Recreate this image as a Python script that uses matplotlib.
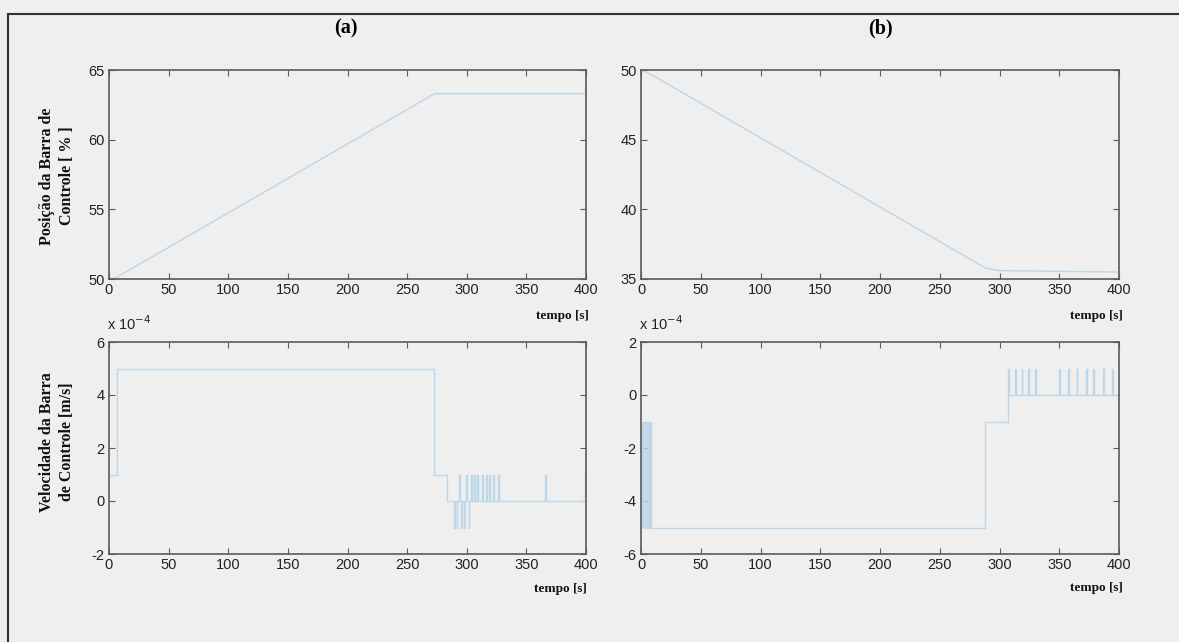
import matplotlib
matplotlib.use("Agg")
import matplotlib.pyplot as plt
from matplotlib.lines import Line2D
from matplotlib.ticker import FixedLocator, FuncFormatter

# ---- data -------------------------------------------------------------
time_ticks = [0, 50, 100, 150, 200, 250, 300, 350, 400]

# rod position [%] (breakpoints of a piecewise-linear trace)
pos_a_t = [0, 6, 273, 400]
pos_a_v = [50.0, 50.1, 63.3, 63.3]
pos_b_t = [0, 8, 288, 300, 400]
pos_b_v = [50.0, 49.7, 35.8, 35.6, 35.5]

# rod speed [m/s] (step levels, held until the next instant)
vel_a_t = [0, 6.5, 272.5, 283.5]
vel_a_v = [1e-4, 5e-4, 1e-4, 0.0]
vel_a_pulse_dn = [289.5, 291.5, 295.5, 297.5, 301.5]
vel_a_pulse_up = [293.5, 299.5, 303.5, 306, 309, 313, 316, 319, 322, 326, 366, 399.3]

vel_b_t = [0, 8.5, 288, 307]
vel_b_v = [-1e-4, -5e-4, -1e-4, 0.0]
vel_b_pulse_dn = [1.0, 3.0, 5.0, 7.0]
vel_b_pulse_up = [307.5, 313, 318.5, 324, 329.5, 350, 357.5, 364.5, 372.5, 378.5, 387, 394]

PULSE_W = 0.7
T_END = 400


def step_trace(t_levels, v_levels, pulses):
    """Merge a step profile with narrow pulses; returns step-post arrays."""
    events = []
    for i, (t0, v) in enumerate(zip(t_levels, v_levels)):
        t1 = t_levels[i + 1] if i + 1 < len(t_levels) else T_END
        events.append((t0, t1, v))
    ts, vs = [], []
    for t0, t1, v in events:
        inside = sorted((p, pv) for p, pv in pulses if t0 <= p < t1)
        cur = t0
        for p, pv in inside:
            ts += [cur, p]
            vs += [v, pv]
            cur = min(p + PULSE_W, t1)
        ts.append(cur)
        vs.append(v)
    ts.append(T_END)
    vs.append(vs[-1])
    return ts, vs


vel_a_x, vel_a_y = step_trace(
    vel_a_t, vel_a_v,
    [(p, -1e-4) for p in vel_a_pulse_dn] + [(p, 1e-4) for p in vel_a_pulse_up])
vel_b_x, vel_b_y = step_trace(
    vel_b_t, vel_b_v,
    [(p, -5e-4) for p in vel_b_pulse_dn] + [(p, 1e-4) for p in vel_b_pulse_up])

# ---- style ------------------------------------------------------------
BG = "#efefef"
LINE = "#bcd6ea"
SPINE = "#5a5a5a"
TICK_FONT = ["Liberation Sans", "DejaVu Sans"]
SERIF = ["Liberation Serif", "DejaVu Serif"]

W, H = 1179, 642
fig = plt.figure(figsize=(W / 100, H / 100), dpi=100, facecolor=BG)


def ax_at(l, t, r, b):
    return fig.add_axes([l / W, 1 - b / H, (r - l) / W, (b - t) / H], facecolor=BG)


def style(ax, yticks, ylim, fmt=None):
    ax.set_xlim(0, 400)
    ax.set_ylim(*ylim)
    ax.xaxis.set_major_locator(FixedLocator(time_ticks))
    ax.yaxis.set_major_locator(FixedLocator(yticks))
    if fmt:
        ax.yaxis.set_major_formatter(fmt)
    ax.tick_params(direction="in", length=4, width=0.8, colors=SPINE,
                   top=True, right=True, labelsize=10.5, pad=3,
                   labelcolor="#222222")
    for lab in ax.get_xticklabels() + ax.get_yticklabels():
        lab.set_fontfamily(TICK_FONT)
    for s in ax.spines.values():
        s.set_color(SPINE)
        s.set_linewidth(1.2)


sci = FuncFormatter(lambda v, _: f"{v / 1e-4:g}")

ax1 = ax_at(109, 70, 586, 279)
ax1.plot(pos_a_t, pos_a_v, color=LINE, lw=1.0)
style(ax1, [50, 55, 60, 65], (50, 65))

ax2 = ax_at(641, 70, 1119, 279)
ax2.plot(pos_b_t, pos_b_v, color=LINE, lw=1.0)
style(ax2, [35, 40, 45, 50], (35, 50))

ax3 = ax_at(109, 342, 586, 554)
ax3.plot(vel_a_x, vel_a_y, color=LINE, lw=1.0, drawstyle="steps-post")
style(ax3, [-2e-4, 0, 2e-4, 4e-4, 6e-4], (-2e-4, 6e-4), sci)

ax4 = ax_at(641, 342, 1119, 554)
ax4.plot(vel_b_x, vel_b_y, color=LINE, lw=1.0, drawstyle="steps-post")
style(ax4, [-6e-4, -4e-4, -2e-4, 0, 2e-4], (-6e-4, 2e-4), sci)

# panel titles
fig.text(346 / W, 1 - 28 / H, "(a)", ha="center", va="center",
         fontfamily=SERIF, fontweight="bold", fontsize=14.5)
fig.text(880 / W, 1 - 28 / H, "(b)", ha="center", va="center",
         fontfamily=SERIF, fontweight="bold", fontsize=14.5)

# y labels (two lines each)
lab_kw = dict(rotation=90, ha="center", va="center", fontfamily=SERIF,
              fontweight="bold", fontsize=11.5, color="#111111")
fig.text(47 / W, 1 - 176 / H, "Posição da Barra de", **lab_kw)
fig.text(67 / W, 1 - 176 / H, "Controle [ % ]", **lab_kw)
fig.text(47 / W, 1 - 442 / H, "Velocidade da Barra", **lab_kw)
fig.text(67 / W, 1 - 442 / H, "de Controle [m/s]", **lab_kw)

# x labels
xl_kw = dict(ha="right", va="center", fontfamily=SERIF, fontweight="bold",
             fontsize=9.5, color="#111111")
fig.text(589 / W, 1 - 316 / H, "tempo [s]", **xl_kw)
fig.text(1123 / W, 1 - 316 / H, "tempo [s]", **xl_kw)
fig.text(587 / W, 1 - 589 / H, "tempo [s]", **xl_kw)
fig.text(1123 / W, 1 - 588 / H, "tempo [s]", **xl_kw)

# exponent markers on the speed panels
exp_kw = dict(ha="left", va="center", fontfamily=TICK_FONT, fontsize=10.5,
              color="#222222")
fig.text(107 / W, 1 - 324 / H, r"x 10$^{-4}$", **exp_kw)
fig.text(639 / W, 1 - 324 / H, r"x 10$^{-4}$", **exp_kw)

# outer frame (top and left edges)
fig.add_artist(Line2D([8 / W, 1.0], [1 - 14 / H, 1 - 14 / H],
                      transform=fig.transFigure, color="#333333", lw=1.5))
fig.add_artist(Line2D([8 / W, 8 / W], [0.0, 1 - 14 / H],
                      transform=fig.transFigure, color="#333333", lw=1.5))

fig.savefig("out.png", dpi=100, facecolor=BG)
